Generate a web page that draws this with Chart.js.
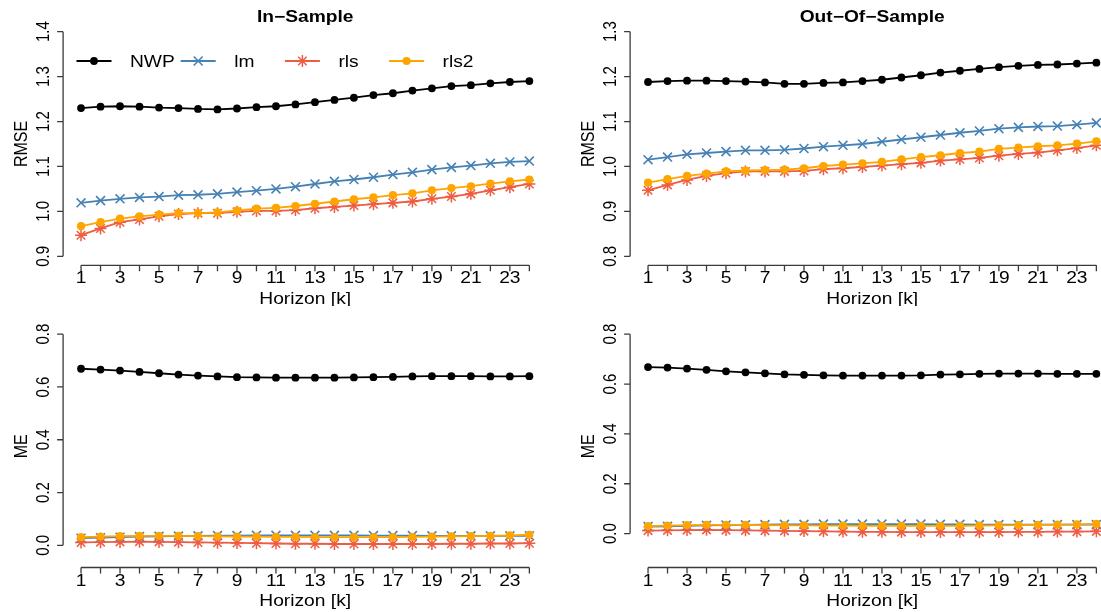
<!DOCTYPE html>
<html>
<head>
<meta charset="utf-8">
<title>Forecast error by horizon</title>
<script src="https://cdn.jsdelivr.net/npm/chart.js@4.4.1/dist/chart.umd.min.js"></script>
<style>
  html, body { margin: 0; padding: 0; background: #fff; overflow: hidden; }
  #figure { position: relative; width: 1101px; height: 612px; overflow: hidden; }
  #figure canvas { position: absolute; }
</style>
</head>
<body>
<div id="figure">
  <canvas id="rmseIn" width="567" height="306" style="left:0px;top:0px"></canvas>
  <canvas id="rmseOut" width="567" height="306" style="left:567px;top:0px"></canvas>
  <canvas id="meIn" width="567" height="306" style="left:0px;top:306px"></canvas>
  <canvas id="meOut" width="567" height="306" style="left:567px;top:306px"></canvas>
</div>
<script>
// Forecast horizons (hours ahead)
const horizons = [1, 2, 3, 4, 5, 6, 7, 8, 9, 10, 11, 12, 13, 14, 15, 16, 17, 18, 19, 20, 21, 22, 23, 24];
const xLabelValues = [1, 3, 5, 7, 9, 11, 13, 15, 17, 19, 21, 23];

const seriesNames = ['NWP', 'lm', 'rls', 'rls2'];

// RMSE, in-sample
const inRmseNwp  = [1.230, 1.233, 1.234, 1.233, 1.231, 1.230, 1.228, 1.227, 1.229, 1.232, 1.234, 1.238, 1.243, 1.248, 1.253, 1.259, 1.263, 1.269, 1.274, 1.279, 1.281, 1.285, 1.288, 1.290];
const inRmseLm   = [1.019, 1.024, 1.028, 1.031, 1.033, 1.036, 1.037, 1.039, 1.043, 1.046, 1.050, 1.055, 1.061, 1.067, 1.071, 1.076, 1.082, 1.087, 1.093, 1.098, 1.102, 1.107, 1.110, 1.112];
const inRmseRls  = [0.947, 0.962, 0.976, 0.982, 0.989, 0.994, 0.996, 0.996, 0.999, 1.001, 1.001, 1.003, 1.007, 1.010, 1.013, 1.016, 1.019, 1.022, 1.028, 1.033, 1.039, 1.047, 1.054, 1.061];
const inRmseRls2 = [0.967, 0.976, 0.984, 0.989, 0.993, 0.996, 0.996, 0.998, 1.002, 1.006, 1.008, 1.012, 1.017, 1.022, 1.027, 1.031, 1.036, 1.040, 1.047, 1.052, 1.056, 1.062, 1.067, 1.071];

// RMSE, out-of-sample
const outRmseNwp  = [1.188, 1.190, 1.191, 1.191, 1.190, 1.189, 1.187, 1.184, 1.184, 1.186, 1.187, 1.190, 1.193, 1.198, 1.203, 1.209, 1.213, 1.217, 1.221, 1.224, 1.226, 1.227, 1.229, 1.231];
const outRmseLm   = [1.015, 1.021, 1.027, 1.030, 1.033, 1.036, 1.036, 1.037, 1.040, 1.044, 1.047, 1.050, 1.055, 1.060, 1.065, 1.070, 1.075, 1.079, 1.084, 1.087, 1.089, 1.090, 1.093, 1.097];
const outRmseRls  = [0.947, 0.959, 0.970, 0.979, 0.985, 0.989, 0.989, 0.989, 0.990, 0.994, 0.996, 0.999, 1.002, 1.005, 1.008, 1.013, 1.016, 1.019, 1.024, 1.028, 1.031, 1.036, 1.041, 1.047];
const outRmseRls2 = [0.964, 0.972, 0.979, 0.984, 0.989, 0.991, 0.992, 0.993, 0.996, 1.001, 1.004, 1.007, 1.010, 1.016, 1.021, 1.025, 1.030, 1.033, 1.039, 1.042, 1.045, 1.047, 1.051, 1.056];

// ME, in-sample
const inMeNwp  = [0.669, 0.666, 0.662, 0.657, 0.652, 0.647, 0.643, 0.640, 0.637, 0.636, 0.635, 0.635, 0.635, 0.635, 0.636, 0.637, 0.638, 0.640, 0.641, 0.641, 0.641, 0.640, 0.640, 0.641];
const inMeLm   = [0.027, 0.029, 0.031, 0.033, 0.034, 0.035, 0.036, 0.037, 0.037, 0.038, 0.038, 0.038, 0.038, 0.038, 0.038, 0.037, 0.037, 0.037, 0.036, 0.036, 0.036, 0.036, 0.036, 0.036];
const inMeRls  = [0.011, 0.012, 0.013, 0.014, 0.013, 0.012, 0.011, 0.010, 0.009, 0.008, 0.007, 0.006, 0.006, 0.005, 0.005, 0.005, 0.005, 0.005, 0.005, 0.006, 0.006, 0.007, 0.007, 0.008];
const inMeRls2 = [0.031, 0.033, 0.035, 0.036, 0.036, 0.036, 0.035, 0.034, 0.033, 0.033, 0.032, 0.032, 0.031, 0.031, 0.031, 0.031, 0.031, 0.032, 0.033, 0.034, 0.035, 0.036, 0.038, 0.040];

// ME, out-of-sample
const outMeNwp  = [0.668, 0.666, 0.662, 0.657, 0.651, 0.647, 0.643, 0.639, 0.637, 0.635, 0.634, 0.634, 0.634, 0.634, 0.635, 0.638, 0.639, 0.641, 0.642, 0.642, 0.642, 0.641, 0.641, 0.641];
const outMeLm   = [0.028, 0.029, 0.031, 0.033, 0.034, 0.035, 0.036, 0.037, 0.037, 0.038, 0.038, 0.038, 0.038, 0.038, 0.038, 0.037, 0.037, 0.036, 0.036, 0.036, 0.036, 0.036, 0.036, 0.036];
const outMeRls  = [0.012, 0.013, 0.014, 0.015, 0.014, 0.013, 0.012, 0.011, 0.010, 0.009, 0.008, 0.007, 0.007, 0.006, 0.006, 0.006, 0.006, 0.006, 0.006, 0.007, 0.007, 0.008, 0.008, 0.009];
const outMeRls2 = [0.030, 0.032, 0.034, 0.035, 0.035, 0.035, 0.034, 0.033, 0.033, 0.032, 0.032, 0.031, 0.031, 0.031, 0.031, 0.031, 0.031, 0.032, 0.033, 0.034, 0.035, 0.036, 0.037, 0.039];

// Axis ticks
const rmseInTicks  = [0.9, 1.0, 1.1, 1.2, 1.3, 1.4];
const rmseOutTicks = [0.8, 0.9, 1.0, 1.1, 1.2, 1.3];
const meTicks      = [0.0, 0.2, 0.4, 0.6, 0.8];

// Per-series look: colour, marker, draw order (lower = on top)
const seriesStyle = [
    { color: '#000000', pointStyle: 'circle',   radius: 3.9, pointBorder: 0,   order: 4 },
    { color: '#4682B4', pointStyle: 'crossRot', radius: 6.3, pointBorder: 1.6, order: 3 },
    { color: '#EE5C42', pointStyle: 'star',     radius: 6,   pointBorder: 1.5, order: 2 },
    { color: '#FFA500', pointStyle: 'circle',   radius: 4.1, pointBorder: 0,   order: 1 }
];

const FONT = "'Liberation Sans', Arial, Helvetica, sans-serif";
const TEXT_STRETCH = 1.2;   // text in the figure is a little wider than tall
const AXIS_COLOR = '#3a3a3a';

// Draw text with a horizontal stretch, optionally rotated to read bottom-up
function stretchText(ctx, text, x, y, rotated, align, baseline) {
    ctx.save();
    ctx.translate(x, y);
    ctx.scale(TEXT_STRETCH, 1);
    if (rotated) ctx.rotate(-Math.PI / 2);
    ctx.textAlign = align;
    ctx.textBaseline = baseline;
    ctx.fillText(text, 0, 0);
    ctx.restore();
}

// Base-graphics style axes: separate lines spanning only the tick range
const rAxesPlugin = {
    id: 'rAxes',
    afterDraw(chart, args, opts) {
        const ctx = chart.ctx;
        const area = chart.chartArea;
        const xs = chart.scales.x;
        const ys = chart.scales.y;

        ctx.save();
        ctx.strokeStyle = AXIS_COLOR;
        ctx.fillStyle = '#000';
        ctx.lineWidth = 1.3;

        // x axis
        const xAxisY = area.bottom;
        ctx.beginPath();
        ctx.moveTo(xs.getPixelForValue(horizons[0]), xAxisY);
        ctx.lineTo(xs.getPixelForValue(horizons[horizons.length - 1]), xAxisY);
        horizons.forEach(h => {
            const px = xs.getPixelForValue(h);
            ctx.moveTo(px, xAxisY);
            ctx.lineTo(px, xAxisY + 6);
        });
        ctx.stroke();

        ctx.font = '16px ' + FONT;
        xLabelValues.forEach(h => {
            stretchText(ctx, String(h), xs.getPixelForValue(h), xAxisY + 18, false, 'center', 'alphabetic');
        });
        stretchText(ctx, 'Horizon [k]', (area.left + area.right) / 2, xAxisY + 38.5, false, 'center', 'alphabetic');

        // y axis
        const yAxisX = area.left;
        const ticks = opts.yTicks;
        ctx.beginPath();
        ctx.moveTo(yAxisX, ys.getPixelForValue(ticks[0]));
        ctx.lineTo(yAxisX, ys.getPixelForValue(ticks[ticks.length - 1]));
        ticks.forEach(t => {
            const py = ys.getPixelForValue(t);
            ctx.moveTo(yAxisX, py);
            ctx.lineTo(yAxisX - 6, py);
        });
        ctx.stroke();

        ctx.font = '15px ' + FONT;
        ticks.forEach(t => {
            stretchText(ctx, t.toFixed(1), yAxisX - 14.4, ys.getPixelForValue(t), true, 'center', 'alphabetic');
        });
        ctx.font = '16px ' + FONT;
        stretchText(ctx, opts.yTitle, yAxisX - 36.4, (area.top + area.bottom) / 2, true, 'center', 'alphabetic');

        // panel title
        if (opts.title) {
            ctx.font = 'bold 16px ' + FONT;
            stretchText(ctx, opts.title, (area.left + area.right) / 2, 21.5, false, 'center', 'alphabetic');
        }

        // legend row: line segment with marker, then name
        if (opts.legend) {
            const rowY = 61;
            const firstX = 76.5;
            const step = 104.2;
            chart.data.datasets.forEach((ds, i) => {
                const x0 = firstX + i * step;
                ctx.strokeStyle = ds.borderColor;
                ctx.fillStyle = ds.borderColor;
                ctx.lineWidth = ds.borderWidth;
                ctx.beginPath();
                ctx.moveTo(x0, rowY);
                ctx.lineTo(x0 + 35, rowY);
                ctx.stroke();
                ctx.lineWidth = ds.pointBorderWidth;
                Chart.helpers.drawPoint(ctx, {
                    pointStyle: ds.pointStyle,
                    radius: ds.pointRadius,
                    borderWidth: ds.pointBorderWidth,
                    rotation: 0
                }, x0 + 17.5, rowY);
                ctx.fillStyle = '#000';
                ctx.font = '16px ' + FONT;
                stretchText(ctx, ds.label, x0 + 53.5, rowY + 5.7, false, 'left', 'alphabetic');
            });
        }
        ctx.restore();
    }
};

function makeDatasets(seriesValues) {
    return seriesValues.map((values, i) => {
        const st = seriesStyle[i];
        return {
            label: seriesNames[i],
            data: horizons.map((h, j) => ({ x: h, y: values[j] })),
            borderColor: st.color,
            backgroundColor: st.color,
            borderWidth: 1.8,
            pointStyle: st.pointStyle,
            pointRadius: st.radius,
            pointBorderWidth: st.pointBorder,
            pointBorderColor: st.color,
            pointBackgroundColor: st.color,
            tension: 0,
            fill: false,
            order: st.order,
            clip: false
        };
    });
}

function createPanel(canvasId, seriesValues, yMin, yMax, yTicks, yTitle, padding, extra) {
    const canvas = document.getElementById(canvasId);
    if (!canvas) {
        console.error('Canvas not found:', canvasId);
        return;
    }
    return new Chart(canvas, {
        type: 'line',
        data: { datasets: makeDatasets(seriesValues) },
        options: {
            responsive: false,
            animation: false,
            events: [],
            layout: { padding: padding },
            plugins: {
                legend: { display: false },
                tooltip: { enabled: false },
                rAxes: Object.assign({ yTicks: yTicks, yTitle: yTitle }, extra)
            },
            scales: {
                // plot region runs 4% past the data range on both axes
                x: { type: 'linear', display: false, min: 0.08, max: 24.92 },
                y: { type: 'linear', display: false, min: yMin, max: yMax }
            }
        },
        plugins: [rAxesPlugin]
    });
}

const topPadding = { left: 63.1, top: 22.7, right: 19.7, bottom: 40.7 };
const bottomPadding = { left: 63.1, top: 19.2, right: 19.7, bottom: 44.5 };

createPanel('rmseIn', [inRmseNwp, inRmseLm, inRmseRls, inRmseRls2], 0.88, 1.42, rmseInTicks, 'RMSE', topPadding,
    { title: 'In\u2212Sample', legend: true });
createPanel('rmseOut', [outRmseNwp, outRmseLm, outRmseRls, outRmseRls2], 0.78, 1.32, rmseOutTicks, 'RMSE', topPadding,
    { title: 'Out\u2212Of\u2212Sample' });
createPanel('meIn', [inMeNwp, inMeLm, inMeRls, inMeRls2], -0.084, 0.834, meTicks, 'ME', bottomPadding, {});
createPanel('meOut', [outMeNwp, outMeLm, outMeRls, outMeRls2], -0.136, 0.836, meTicks, 'ME', bottomPadding, {});
</script>
</body>
</html>
